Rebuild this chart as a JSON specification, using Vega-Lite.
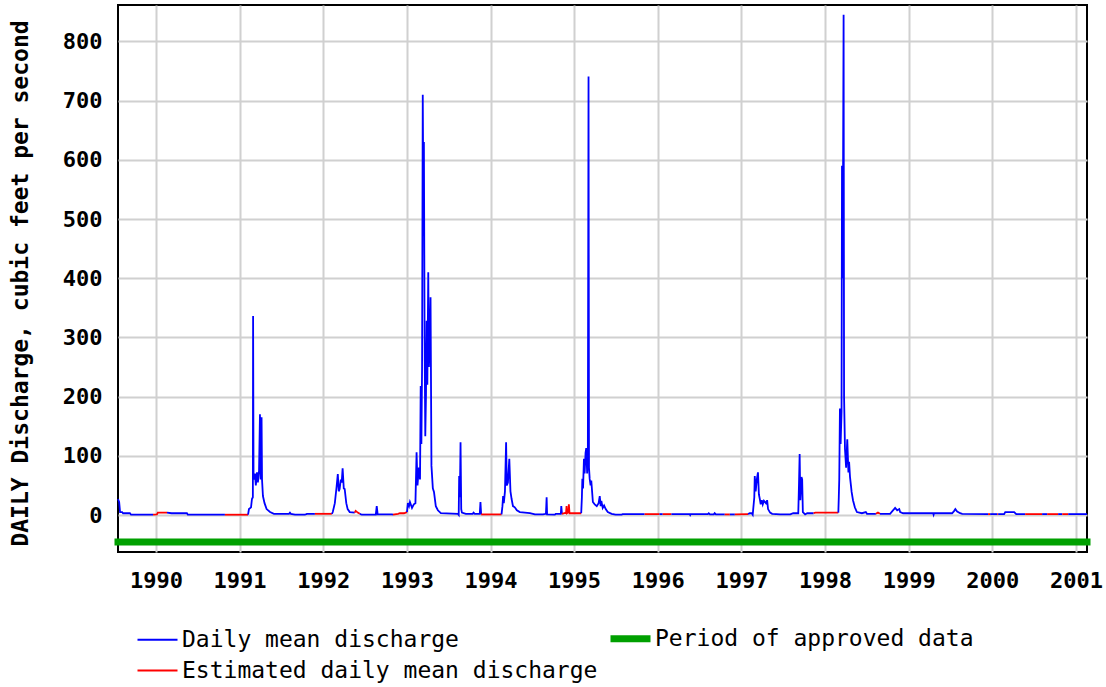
{
"$schema": "https://vega.github.io/schema/vega-lite/v6.json",
"width": 969, "height": 547,
"autosize": {"type": "none"},
"padding": {"left": 118, "top": 5, "right": 19, "bottom": 135},
"background": "#ffffff",
"config": {
  "view": {"stroke": "#000000", "strokeWidth": 2},
  "axis": {"domain": false, "ticks": false, "grid": true, "gridColor": "#d0d0d0", "gridWidth": 2, "gridOpacity": 1,
    "labelFont": "DejaVu Sans Mono", "labelFontWeight": "bold", "labelFontSize": 22, "labelColor": "#000000",
    "titleFont": "DejaVu Sans Mono", "titleFontWeight": "bold", "titleFontSize": 23, "titleColor": "#000000"},
  "legend": {"labelFont": "DejaVu Sans Mono", "labelFontSize": 23, "labelColor": "#000000", "labelFontWeight": "normal"}
},
"datasets": {
"q": [
{"d":"1989-07-19","v":27,"s":1,"t":"D"},{"d":"1989-07-24","v":22,"s":1,"t":"D"},{"d":"1989-07-28","v":5,"s":1,"t":"D"},{"d":"1989-08-06","v":5,"s":1,"t":"D"},{"d":"1989-08-10","v":3,"s":1,"t":"D"},{"d":"1989-09-09","v":3,"s":1,"t":"D"},{"d":"1989-09-14","v":0.5,"s":1,"t":"D"},{"d":"1989-12-19","v":0.5,"s":1,"t":"D"},
{"d":"1989-12-19","v":0.5,"s":2,"t":"E"},{"d":"1990-01-05","v":1,"s":2,"t":"E"},{"d":"1990-01-09","v":4,"s":2,"t":"E"},{"d":"1990-02-18","v":4,"s":2,"t":"E"},
{"d":"1990-02-18","v":4,"s":3,"t":"D"},{"d":"1990-03-10","v":3,"s":3,"t":"D"},{"d":"1990-05-16","v":3,"s":3,"t":"D"},{"d":"1990-05-20","v":0.5,"s":3,"t":"D"},{"d":"1990-10-29","v":0.5,"s":3,"t":"D"},
{"d":"1990-10-29","v":0.5,"s":4,"t":"E"},{"d":"1991-02-07","v":0.5,"s":4,"t":"E"},
{"d":"1991-02-07","v":0.5,"s":5,"t":"D"},{"d":"1991-02-11","v":10,"s":5,"t":"D"},{"d":"1991-02-20","v":13,"s":5,"t":"D"},{"d":"1991-02-24","v":27,"s":5,"t":"D"},{"d":"1991-02-28","v":30,"s":5,"t":"D"},{"d":"1991-03-01","v":336,"s":5,"t":"D"},{"d":"1991-03-03","v":60,"s":5,"t":"D"},{"d":"1991-03-09","v":70,"s":5,"t":"D"},{"d":"1991-03-13","v":50,"s":5,"t":"D"},{"d":"1991-03-18","v":72,"s":5,"t":"D"},{"d":"1991-03-22","v":55,"s":5,"t":"D"},{"d":"1991-03-27","v":75,"s":5,"t":"D"},{"d":"1991-03-31","v":170,"s":5,"t":"D"},{"d":"1991-04-03","v":60,"s":5,"t":"D"},{"d":"1991-04-07","v":165,"s":5,"t":"D"},{"d":"1991-04-09","v":60,"s":5,"t":"D"},{"d":"1991-04-13","v":32,"s":5,"t":"D"},{"d":"1991-04-20","v":20,"s":5,"t":"D"},{"d":"1991-04-29","v":10,"s":5,"t":"D"},{"d":"1991-05-14","v":5,"s":5,"t":"D"},{"d":"1991-05-31","v":2,"s":5,"t":"D"},{"d":"1991-08-05","v":2,"s":5,"t":"D"},{"d":"1991-08-09","v":4,"s":5,"t":"D"},{"d":"1991-08-13","v":2,"s":5,"t":"D"},{"d":"1991-08-31","v":0.5,"s":5,"t":"D"},{"d":"1991-10-13","v":0.5,"s":5,"t":"D"},{"d":"1991-10-22","v":2,"s":5,"t":"D"},{"d":"1991-11-26","v":2,"s":5,"t":"D"},
{"d":"1991-11-26","v":2,"s":6,"t":"E"},{"d":"1992-02-08","v":2,"s":6,"t":"E"},
{"d":"1992-02-08","v":2,"s":7,"t":"D"},{"d":"1992-02-12","v":5,"s":7,"t":"D"},{"d":"1992-02-21","v":20,"s":7,"t":"D"},{"d":"1992-02-29","v":49,"s":7,"t":"D"},{"d":"1992-03-05","v":69,"s":7,"t":"D"},{"d":"1992-03-09","v":40,"s":7,"t":"D"},{"d":"1992-03-13","v":44,"s":7,"t":"D"},{"d":"1992-03-18","v":60,"s":7,"t":"D"},{"d":"1992-03-22","v":55,"s":7,"t":"D"},{"d":"1992-03-26","v":79,"s":7,"t":"D"},{"d":"1992-03-31","v":45,"s":7,"t":"D"},{"d":"1992-04-04","v":44,"s":7,"t":"D"},{"d":"1992-04-11","v":20,"s":7,"t":"D"},{"d":"1992-04-17","v":10,"s":7,"t":"D"},{"d":"1992-04-26","v":5,"s":7,"t":"D"},{"d":"1992-05-18","v":4,"s":7,"t":"D"},
{"d":"1992-05-18","v":4,"s":8,"t":"E"},{"d":"1992-05-22","v":7,"s":8,"t":"E"},{"d":"1992-05-31","v":4,"s":8,"t":"E"},{"d":"1992-06-09","v":2,"s":8,"t":"E"},
{"d":"1992-06-09","v":2,"s":9,"t":"D"},{"d":"1992-06-18","v":0.5,"s":9,"t":"D"},{"d":"1992-08-18","v":0.5,"s":9,"t":"D"},{"d":"1992-08-22","v":15,"s":9,"t":"D"},{"d":"1992-08-26","v":1,"s":9,"t":"D"},{"d":"1992-10-27","v":1,"s":9,"t":"D"},{"d":"1992-11-01","v":0.5,"s":9,"t":"D"},
{"d":"1992-11-01","v":0.5,"s":10,"t":"E"},{"d":"1992-11-23","v":2,"s":10,"t":"E"},{"d":"1992-12-01","v":3,"s":10,"t":"E"},{"d":"1992-12-19","v":3,"s":10,"t":"E"},{"d":"1993-01-01","v":5,"s":10,"t":"E"},
{"d":"1993-01-01","v":5,"s":11,"t":"D"},{"d":"1993-01-05","v":20,"s":11,"t":"D"},{"d":"1993-01-10","v":15,"s":11,"t":"D"},{"d":"1993-01-14","v":22,"s":11,"t":"D"},{"d":"1993-01-23","v":12,"s":11,"t":"D"},{"d":"1993-01-31","v":18,"s":11,"t":"D"},{"d":"1993-02-07","v":20,"s":11,"t":"D"},{"d":"1993-02-12","v":106,"s":11,"t":"D"},{"d":"1993-02-16","v":50,"s":11,"t":"D"},{"d":"1993-02-22","v":80,"s":11,"t":"D"},{"d":"1993-02-27","v":60,"s":11,"t":"D"},{"d":"1993-03-02","v":218,"s":11,"t":"D"},{"d":"1993-03-05","v":120,"s":11,"t":"D"},{"d":"1993-03-08","v":250,"s":11,"t":"D"},{"d":"1993-03-11","v":710,"s":11,"t":"D"},{"d":"1993-03-14","v":500,"s":11,"t":"D"},{"d":"1993-03-16","v":630,"s":11,"t":"D"},{"d":"1993-03-19","v":300,"s":11,"t":"D"},{"d":"1993-03-22","v":133,"s":11,"t":"D"},{"d":"1993-03-25","v":200,"s":11,"t":"D"},{"d":"1993-03-28","v":328,"s":11,"t":"D"},{"d":"1993-03-31","v":220,"s":11,"t":"D"},{"d":"1993-04-04","v":410,"s":11,"t":"D"},{"d":"1993-04-07","v":250,"s":11,"t":"D"},{"d":"1993-04-11","v":300,"s":11,"t":"D"},{"d":"1993-04-14","v":368,"s":11,"t":"D"},{"d":"1993-04-18","v":83,"s":11,"t":"D"},{"d":"1993-04-24","v":45,"s":11,"t":"D"},{"d":"1993-04-29","v":39,"s":11,"t":"D"},{"d":"1993-05-07","v":15,"s":11,"t":"D"},{"d":"1993-05-16","v":8,"s":11,"t":"D"},{"d":"1993-05-29","v":3,"s":11,"t":"D"},{"d":"1993-08-11","v":2,"s":11,"t":"D"},{"d":"1993-08-15","v":0,"s":11,"t":"D"},{"d":"1993-08-17","v":66,"s":11,"t":"D"},{"d":"1993-08-20","v":30,"s":11,"t":"D"},{"d":"1993-08-23","v":123,"s":11,"t":"D"},{"d":"1993-08-26","v":10,"s":11,"t":"D"},{"d":"1993-08-29","v":4,"s":11,"t":"D"},{"d":"1993-09-15","v":2,"s":11,"t":"D"},{"d":"1993-10-15","v":2,"s":11,"t":"D"},{"d":"1993-10-19","v":4,"s":11,"t":"D"},{"d":"1993-10-24","v":2,"s":11,"t":"D"},{"d":"1993-11-15","v":2,"s":11,"t":"D"},{"d":"1993-11-18","v":22,"s":11,"t":"D"},{"d":"1993-11-21","v":1,"s":11,"t":"D"},
{"d":"1993-11-21","v":1,"s":12,"t":"E"},{"d":"1994-02-18","v":1,"s":12,"t":"E"},
{"d":"1994-02-18","v":1,"s":13,"t":"D"},{"d":"1994-02-22","v":15,"s":13,"t":"D"},{"d":"1994-02-25","v":32,"s":13,"t":"D"},{"d":"1994-02-28","v":20,"s":13,"t":"D"},{"d":"1994-03-05","v":40,"s":13,"t":"D"},{"d":"1994-03-10","v":123,"s":13,"t":"D"},{"d":"1994-03-13","v":50,"s":13,"t":"D"},{"d":"1994-03-18","v":55,"s":13,"t":"D"},{"d":"1994-03-24","v":95,"s":13,"t":"D"},{"d":"1994-03-29","v":40,"s":13,"t":"D"},{"d":"1994-04-03","v":27,"s":13,"t":"D"},{"d":"1994-04-09","v":15,"s":13,"t":"D"},{"d":"1994-04-17","v":13,"s":13,"t":"D"},{"d":"1994-04-26","v":8,"s":13,"t":"D"},{"d":"1994-05-09","v":5,"s":13,"t":"D"},{"d":"1994-06-22","v":3,"s":13,"t":"D"},{"d":"1994-07-14","v":1,"s":13,"t":"D"},{"d":"1994-08-18","v":1,"s":13,"t":"D"},{"d":"1994-08-31","v":2,"s":13,"t":"D"},{"d":"1994-09-03","v":30,"s":13,"t":"D"},{"d":"1994-09-05","v":1,"s":13,"t":"D"},{"d":"1994-10-09","v":0.5,"s":13,"t":"D"},{"d":"1994-10-13","v":2,"s":13,"t":"D"},{"d":"1994-11-04","v":2,"s":13,"t":"D"},{"d":"1994-11-06","v":15,"s":13,"t":"D"},{"d":"1994-11-09","v":2,"s":13,"t":"D"},
{"d":"1994-11-09","v":2,"s":14,"t":"E"},{"d":"1994-11-27","v":4,"s":14,"t":"E"},{"d":"1994-11-29","v":15,"s":14,"t":"E"},{"d":"1994-12-01","v":3,"s":14,"t":"E"},{"d":"1994-12-07","v":5,"s":14,"t":"E"},{"d":"1994-12-09","v":18,"s":14,"t":"E"},{"d":"1994-12-12","v":3,"s":14,"t":"E"},{"d":"1995-02-01","v":3,"s":14,"t":"E"},
{"d":"1995-02-01","v":3,"s":15,"t":"D"},{"d":"1995-02-04","v":30,"s":15,"t":"D"},{"d":"1995-02-06","v":61,"s":15,"t":"D"},{"d":"1995-02-09","v":45,"s":15,"t":"D"},{"d":"1995-02-13","v":95,"s":15,"t":"D"},{"d":"1995-02-16","v":70,"s":15,"t":"D"},{"d":"1995-02-20","v":105,"s":15,"t":"D"},{"d":"1995-02-23","v":113,"s":15,"t":"D"},{"d":"1995-02-27","v":70,"s":15,"t":"D"},{"d":"1995-03-02","v":100,"s":15,"t":"D"},{"d":"1995-03-05","v":741,"s":15,"t":"D"},{"d":"1995-03-07","v":80,"s":15,"t":"D"},{"d":"1995-03-10","v":61,"s":15,"t":"D"},{"d":"1995-03-14","v":50,"s":15,"t":"D"},{"d":"1995-03-17","v":58,"s":15,"t":"D"},{"d":"1995-03-24","v":22,"s":15,"t":"D"},{"d":"1995-04-01","v":18,"s":15,"t":"D"},{"d":"1995-04-10","v":15,"s":15,"t":"D"},{"d":"1995-04-18","v":20,"s":15,"t":"D"},{"d":"1995-04-23","v":32,"s":15,"t":"D"},{"d":"1995-04-27","v":15,"s":15,"t":"D"},{"d":"1995-04-30","v":24,"s":15,"t":"D"},{"d":"1995-05-06","v":12,"s":15,"t":"D"},{"d":"1995-05-12","v":16,"s":15,"t":"D"},{"d":"1995-05-19","v":10,"s":15,"t":"D"},{"d":"1995-05-28","v":5,"s":15,"t":"D"},{"d":"1995-06-14","v":2,"s":15,"t":"D"},{"d":"1995-07-01","v":0.5,"s":15,"t":"D"},{"d":"1995-07-27","v":0.5,"s":15,"t":"D"},{"d":"1995-08-01","v":1.5,"s":15,"t":"D"},{"d":"1995-11-05","v":1.5,"s":15,"t":"D"},
{"d":"1995-11-05","v":1.5,"s":16,"t":"E"},{"d":"1996-01-09","v":1.5,"s":16,"t":"E"},
{"d":"1996-01-09","v":1.5,"s":17,"t":"D"},{"d":"1996-01-23","v":1.5,"s":17,"t":"D"},
{"d":"1996-01-23","v":1.5,"s":18,"t":"E"},{"d":"1996-03-01","v":1.5,"s":18,"t":"E"},
{"d":"1996-03-01","v":1.5,"s":19,"t":"D"},{"d":"1996-05-20","v":1.5,"s":19,"t":"D"},{"d":"1996-05-22","v":0,"s":19,"t":"D"},{"d":"1996-05-24","v":1.5,"s":19,"t":"D"},{"d":"1996-08-07","v":1.5,"s":19,"t":"D"},{"d":"1996-08-11","v":3,"s":19,"t":"D"},{"d":"1996-08-16","v":1,"s":19,"t":"D"},{"d":"1996-09-02","v":1,"s":19,"t":"D"},{"d":"1996-09-06","v":3,"s":19,"t":"D"},{"d":"1996-09-11","v":1,"s":19,"t":"D"},{"d":"1996-10-20","v":1,"s":19,"t":"D"},
{"d":"1996-10-20","v":1,"s":20,"t":"E"},{"d":"1996-11-11","v":1,"s":20,"t":"E"},
{"d":"1996-11-11","v":1,"s":21,"t":"D"},{"d":"1996-12-03","v":1,"s":21,"t":"D"},
{"d":"1996-12-03","v":1,"s":22,"t":"E"},{"d":"1997-01-30","v":1.5,"s":22,"t":"E"},
{"d":"1997-01-30","v":1.5,"s":23,"t":"D"},{"d":"1997-02-06","v":3,"s":23,"t":"D"},{"d":"1997-02-15","v":3,"s":23,"t":"D"},{"d":"1997-02-19","v":0.5,"s":23,"t":"D"},{"d":"1997-02-26","v":30,"s":23,"t":"D"},{"d":"1997-02-28","v":66,"s":23,"t":"D"},{"d":"1997-03-04","v":40,"s":23,"t":"D"},{"d":"1997-03-09","v":60,"s":23,"t":"D"},{"d":"1997-03-14","v":72,"s":23,"t":"D"},{"d":"1997-03-18","v":35,"s":23,"t":"D"},{"d":"1997-03-22","v":27,"s":23,"t":"D"},{"d":"1997-03-26","v":18,"s":23,"t":"D"},{"d":"1997-03-31","v":25,"s":23,"t":"D"},{"d":"1997-04-04","v":18,"s":23,"t":"D"},{"d":"1997-04-09","v":24,"s":23,"t":"D"},{"d":"1997-04-18","v":20,"s":23,"t":"D"},{"d":"1997-04-23","v":25,"s":23,"t":"D"},{"d":"1997-04-27","v":10,"s":23,"t":"D"},{"d":"1997-05-06","v":4,"s":23,"t":"D"},{"d":"1997-05-15","v":2,"s":23,"t":"D"},{"d":"1997-06-19","v":1,"s":23,"t":"D"},{"d":"1997-08-02","v":1,"s":23,"t":"D"},{"d":"1997-08-15","v":3,"s":23,"t":"D"},{"d":"1997-09-06","v":3,"s":23,"t":"D"},{"d":"1997-09-09","v":50,"s":23,"t":"D"},{"d":"1997-09-12","v":103,"s":23,"t":"D"},{"d":"1997-09-15","v":25,"s":23,"t":"D"},{"d":"1997-09-20","v":64,"s":23,"t":"D"},{"d":"1997-09-23","v":60,"s":23,"t":"D"},{"d":"1997-09-26","v":5,"s":23,"t":"D"},{"d":"1997-10-06","v":1,"s":23,"t":"D"},{"d":"1997-10-15","v":3,"s":23,"t":"D"},{"d":"1997-11-12","v":3,"s":23,"t":"D"},
{"d":"1997-11-12","v":3,"s":24,"t":"E"},{"d":"1997-11-20","v":4,"s":24,"t":"E"},{"d":"1998-02-28","v":4,"s":24,"t":"E"},
{"d":"1998-02-28","v":4,"s":25,"t":"D"},{"d":"1998-03-02","v":30,"s":25,"t":"D"},{"d":"1998-03-04","v":60,"s":25,"t":"D"},{"d":"1998-03-07","v":180,"s":25,"t":"D"},{"d":"1998-03-10","v":120,"s":25,"t":"D"},{"d":"1998-03-14","v":175,"s":25,"t":"D"},{"d":"1998-03-16","v":590,"s":25,"t":"D"},{"d":"1998-03-19","v":400,"s":25,"t":"D"},{"d":"1998-03-23","v":845,"s":25,"t":"D"},{"d":"1998-03-25","v":200,"s":25,"t":"D"},{"d":"1998-03-29","v":111,"s":25,"t":"D"},{"d":"1998-04-03","v":80,"s":25,"t":"D"},{"d":"1998-04-08","v":128,"s":25,"t":"D"},{"d":"1998-04-13","v":72,"s":25,"t":"D"},{"d":"1998-04-16","v":90,"s":25,"t":"D"},{"d":"1998-04-20","v":64,"s":25,"t":"D"},{"d":"1998-04-24","v":50,"s":25,"t":"D"},{"d":"1998-04-27","v":39,"s":25,"t":"D"},{"d":"1998-05-03","v":25,"s":25,"t":"D"},{"d":"1998-05-11","v":13,"s":25,"t":"D"},{"d":"1998-05-20","v":5,"s":25,"t":"D"},{"d":"1998-06-11","v":3,"s":25,"t":"D"},{"d":"1998-06-28","v":5,"s":25,"t":"D"},{"d":"1998-07-03","v":2,"s":25,"t":"D"},{"d":"1998-08-11","v":2,"s":25,"t":"D"},
{"d":"1998-08-11","v":2,"s":26,"t":"E"},{"d":"1998-08-20","v":4,"s":26,"t":"E"},{"d":"1998-08-29","v":2,"s":26,"t":"E"},
{"d":"1998-08-29","v":2,"s":27,"t":"D"},{"d":"1998-10-12","v":2,"s":27,"t":"D"},{"d":"1998-10-21","v":6,"s":27,"t":"D"},{"d":"1998-11-03","v":12,"s":27,"t":"D"},{"d":"1998-11-12","v":8,"s":27,"t":"D"},{"d":"1998-11-21","v":10,"s":27,"t":"D"},{"d":"1998-11-25","v":5,"s":27,"t":"D"},{"d":"1998-12-08","v":3,"s":27,"t":"D"},{"d":"1999-04-18","v":3,"s":27,"t":"D"},{"d":"1999-04-20","v":0.5,"s":27,"t":"D"},{"d":"1999-04-22","v":3,"s":27,"t":"D"},{"d":"1999-07-10","v":3,"s":27,"t":"D"},{"d":"1999-07-19","v":7,"s":27,"t":"D"},{"d":"1999-07-24","v":10,"s":27,"t":"D"},{"d":"1999-08-01","v":6,"s":27,"t":"D"},{"d":"1999-08-14","v":3,"s":27,"t":"D"},{"d":"1999-08-23","v":2,"s":27,"t":"D"},{"d":"1999-12-14","v":1.5,"s":27,"t":"D"},
{"d":"1999-12-14","v":1.5,"s":28,"t":"E"},{"d":"1999-12-23","v":1.5,"s":28,"t":"E"},
{"d":"1999-12-23","v":1.5,"s":29,"t":"D"},{"d":"2000-01-23","v":1.5,"s":29,"t":"D"},
{"d":"2000-01-23","v":1.5,"s":30,"t":"E"},{"d":"2000-01-27","v":1.5,"s":30,"t":"E"},
{"d":"2000-01-27","v":1.5,"s":31,"t":"D"},{"d":"2000-02-22","v":1.5,"s":31,"t":"D"},{"d":"2000-02-27","v":5,"s":31,"t":"D"},{"d":"2000-04-06","v":5,"s":31,"t":"D"},{"d":"2000-04-15","v":1.5,"s":31,"t":"D"},{"d":"2000-05-24","v":1.5,"s":31,"t":"D"},
{"d":"2000-05-24","v":1.5,"s":32,"t":"E"},{"d":"2000-08-06","v":1.5,"s":32,"t":"E"},
{"d":"2000-08-06","v":1.5,"s":33,"t":"D"},{"d":"2000-08-28","v":1.5,"s":33,"t":"D"},
{"d":"2000-08-28","v":1.5,"s":34,"t":"E"},{"d":"2000-10-15","v":1.5,"s":34,"t":"E"},
{"d":"2000-10-15","v":1.5,"s":35,"t":"D"},{"d":"2000-11-02","v":1.5,"s":35,"t":"D"},
{"d":"2000-11-02","v":1.5,"s":36,"t":"E"},{"d":"2000-11-28","v":1.5,"s":36,"t":"E"},
{"d":"2000-11-28","v":1.5,"s":37,"t":"D"},{"d":"2001-02-18","v":1.5,"s":37,"t":"D"}
],
"p": [{"d":"1989-07-19","d2":"2001-02-18","t":"P"}]
},
"layer": [
{
  "data": {"name": "q"},
  "mark": {"type": "line", "strokeWidth": 1.8},
  "encoding": {
    "x": {"field": "d", "type": "temporal",
      "scale": {"type": "utc", "domain": [{"year": 1989, "month": 7, "date": 19, "utc": true}, {"year": 2001, "month": 2, "date": 18, "utc": true}]},
      "axis": {"title": null, "tickCount": {"interval": "year", "step": 1}, "format": "%Y", "labelPadding": 18, "labelFlush": false, "labelOverlap": false, "labelBaseline": "top"}},
    "y": {"field": "v", "type": "quantitative",
      "scale": {"domain": [-62.5, 861.6], "nice": false, "zero": false},
      "axis": {"title": "DAILY Discharge, cubic feet per second", "values": [0,100,200,300,400,500,600,700,800], "labelPadding": 16,
        "titleX": -98, "titleY": 278, "titleAngle": 270, "titleAlign": "center", "titleBaseline": "middle"}},
    "color": {"field": "t", "type": "nominal",
      "scale": {"domain": ["D","P","E"], "range": ["#0000ff","#00a000","#ff0000"]},
      "legend": {"title": null, "orient": "none", "legendX": 28, "legendY": 622, "direction": "horizontal", "columns": 2,
        "columnPadding": -2, "rowPadding": 6, "symbolType": "stroke", "symbolSize": 1600, "symbolStrokeWidth": 2, "labelOffset": 13, "labelLimit": 0,
        "labelExpr": "datum.value == 'D' ? 'Daily mean discharge' : datum.value == 'P' ? 'Period of approved data' : 'Estimated daily mean discharge'",
        "encode": {"symbols": {"update": {"strokeWidth": {"signal": "datum.value == 'P' ? 7 : 2"}, "opacity": {"value": 1}}}}}},
    "detail": {"field": "s", "type": "nominal"}
  }
},
{
  "data": {"name": "p"},
  "mark": {"type": "rule", "strokeWidth": 7, "strokeCap": "square"},
  "encoding": {
    "x": {"field": "d", "type": "temporal"},
    "x2": {"field": "d2"},
    "y": {"datum": -45.6},
    "color": {"field": "t", "type": "nominal"}
  }
}
]
}
